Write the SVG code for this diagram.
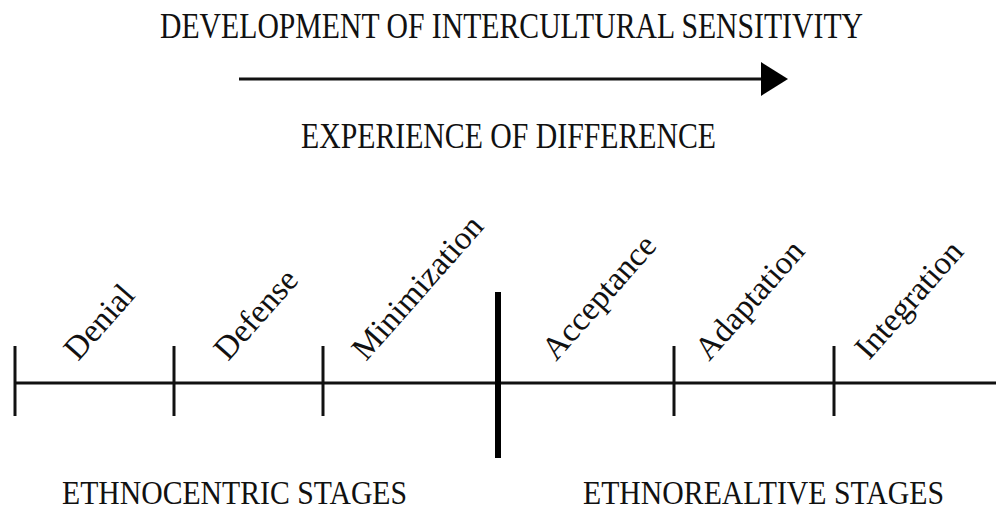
<svg xmlns="http://www.w3.org/2000/svg" width="996" height="513" viewBox="0 0 996 513">
<style>
text{font-family:"Liberation Serif","Times New Roman",serif;font-size:35px;fill:#111}
.lbl{font-size:33px}
.bot{font-size:34px}
.ln{stroke:#111;stroke-width:3;fill:none}
.thick{stroke:#000;stroke-width:6;fill:none}
</style>
<defs>
<marker id="ah" markerUnits="userSpaceOnUse" markerWidth="28" markerHeight="36" refX="0" refY="17" orient="auto">
<path d="M0,0 L27,17 L0,34 Z" fill="#000"/>
</marker>
</defs>
<rect width="996" height="513" fill="#fff"/>
<g id="title">
<text x="160" y="38" textLength="703" lengthAdjust="spacingAndGlyphs">DEVELOPMENT OF INTERCULTURAL SENSITIVITY</text>
</g>
<g id="subtitle">
<text x="301" y="148" textLength="415" lengthAdjust="spacingAndGlyphs">EXPERIENCE OF DIFFERENCE</text>
</g>
<g id="connectors">
<line class="ln" x1="239" y1="79" x2="761" y2="79" marker-end="url(#ah)"/>
<line class="ln" x1="15" y1="383" x2="996" y2="383"/>
<line class="ln" x1="15" y1="346" x2="15" y2="416"/>
<line class="ln" x1="174" y1="346" x2="174" y2="416"/>
<line class="ln" x1="323" y1="346" x2="323" y2="416"/>
<line class="thick" x1="498" y1="292" x2="498" y2="458"/>
<line class="ln" x1="674" y1="346" x2="674" y2="416"/>
<line class="ln" x1="834" y1="346" x2="834" y2="416"/>
</g>
<g id="denial"><text class="lbl" transform="translate(78 362) rotate(-48.5)">Denial</text></g>
<g id="defense"><text class="lbl" transform="translate(228 362) rotate(-48.5)">Defense</text></g>
<g id="minimization"><text class="lbl" transform="translate(366 362) rotate(-48.5)">Minimization</text></g>
<g id="acceptance"><text class="lbl" transform="translate(556 362) rotate(-48.5)">Acceptance</text></g>
<g id="adaptation"><text class="lbl" transform="translate(709 362) rotate(-48.5)">Adaptation</text></g>
<g id="integration"><text class="lbl" transform="translate(869 361) rotate(-48.5)">Integration</text></g>
<g id="ethnocentric">
<text class="bot" x="62" y="504" textLength="345" lengthAdjust="spacingAndGlyphs">ETHNOCENTRIC STAGES</text>
</g>
<g id="ethnorelative">
<text class="bot" x="583" y="504" textLength="361" lengthAdjust="spacingAndGlyphs">ETHNOREALTIVE STAGES</text>
</g>
</svg>
